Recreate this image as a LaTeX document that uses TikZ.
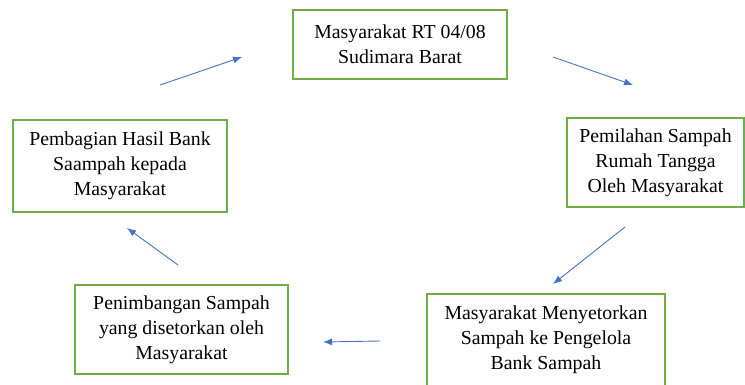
\documentclass[tikz,border=0pt]{standalone}
\usepackage{fontspec}
\setmainfont{Liberation Serif}
\usetikzlibrary{arrows.meta}
\definecolor{boxgreen}{HTML}{70AD47}
\definecolor{arrowblue}{HTML}{4472C4}

\begin{document}
\begin{tikzpicture}[x=1pt,y=-1pt,
   every node/.style={font=\rmfamily\fontsize{19.8}{25}\selectfont},
   stagebox/.style={draw=boxgreen,line width=1.8pt,align=center,inner sep=0pt},
   flow/.style={draw=arrowblue,line width=0.9pt,-{Latex[length=9pt,width=7pt]}}]
\useasboundingbox (0,0) rectangle (745,385);
\node[stagebox,minimum width=214pt,minimum height=69pt] (warga) at (400,44.5) {Masyarakat RT 04/08\\Sudimara Barat};
\node[stagebox,minimum width=177pt,minimum height=89pt] (pilah) at (655.5,162.5) {Pemilahan Sampah\\Rumah Tangga\\Oleh Masyarakat};
\node[stagebox,minimum width=238pt,minimum height=92pt] (setor) at (546,340) {Masyarakat Menyetorkan\\Sampah ke Pengelola\\Bank Sampah};
\node[stagebox,minimum width=213pt,minimum height=89pt] (timbang) at (181.5,329.5) {Penimbangan Sampah\\yang disetorkan oleh\\Masyarakat};
\node[stagebox,minimum width=214pt,minimum height=92pt] (bagi) at (120,166) {Pembagian Hasil Bank\\Saampah kepada\\Masyarakat};
% free arrow ends between the boxes
\coordinate (a1) at (160,85);  \coordinate (b1) at (242,57);
\coordinate (a2) at (553,57);  \coordinate (b2) at (633,85);
\coordinate (a3) at (625,227); \coordinate (b3) at (553,284);
\coordinate (a4) at (380,341); \coordinate (b4) at (323,342);
\coordinate (a5) at (178,265); \coordinate (b5) at (127,228);
\draw[flow] (a1) -- (b1);
\draw[flow] (a2) -- (b2);
\draw[flow] (a3) -- (b3);
\draw[flow] (a4) -- (b4);
\draw[flow] (a5) -- (b5);
\end{tikzpicture}
\end{document}
